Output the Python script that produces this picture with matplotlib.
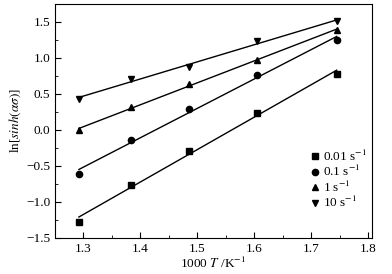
import numpy as np
import matplotlib
matplotlib.use("Agg")
import matplotlib.pyplot as plt
from matplotlib.ticker import MultipleLocator

plt.rcParams['font.family'] = ['Liberation Serif', 'DejaVu Serif']
plt.rcParams['mathtext.fontset'] = 'stix'

x = [1.292, 1.383, 1.486, 1.605, 1.745]
y_001 = [-1.278, -0.762, -0.286, 0.240, 0.775]
y_01 = [-0.614, -0.143, 0.291, 0.766, 1.246]
y_1 = [0.0, 0.314, 0.632, 0.969, 1.394]
y_10 = [0.425, 0.715, 0.877, 1.232, 1.51]
labels = ['0.01 s$^{-1}$', '0.1 s$^{-1}$', '1 s$^{-1}$', '10 s$^{-1}$']
markers = ['s', 'o', '^', 'v']

fig = plt.figure(figsize=(3.92, 2.74), dpi=100)
ax = fig.add_axes([55/392, 1-238/274, (372-55)/392, (238-4)/274])

xa = np.array(x)
for ys, lab, m in zip([y_001, y_01, y_1, y_10], labels, markers):
    ax.plot(xa, ys, linestyle='none', marker=m, color='black', ms=4.5, label=lab)
    k, b = np.polyfit(xa, ys, 1)
    ax.plot([xa[0], xa[-1]], [k*xa[0]+b, k*xa[-1]+b], color='black', lw=1.0)

ax.set_xlim(1.25, 1.807)
ax.set_ylim(-1.5, 1.75)
ax.xaxis.set_major_locator(MultipleLocator(0.1))
ax.xaxis.set_minor_locator(MultipleLocator(0.05))
ax.yaxis.set_major_locator(MultipleLocator(0.5))
ax.yaxis.set_minor_locator(MultipleLocator(0.25))
ax.tick_params(which='both', direction='in', labelsize=9.5, top=False, right=False)
ax.tick_params(which='major', length=4.5)
ax.tick_params(which='minor', length=2.5)
for s in ax.spines.values():
    s.set_linewidth(0.8)

ax.set_xlabel('1000 $T$ /K$^{-1}$', fontsize=9.5, labelpad=1)
ax.set_ylabel(r'ln[$\mathit{sinh}$$(\alpha\sigma)$]', fontsize=9.5, labelpad=2)

ax.legend(loc='upper left', bbox_to_anchor=(0.765, 0.42), frameon=False, fontsize=9.5,
          handletextpad=0.0, labelspacing=0.02, borderpad=0.2, handlelength=1.2)

fig.savefig('out.png', dpi=100)
